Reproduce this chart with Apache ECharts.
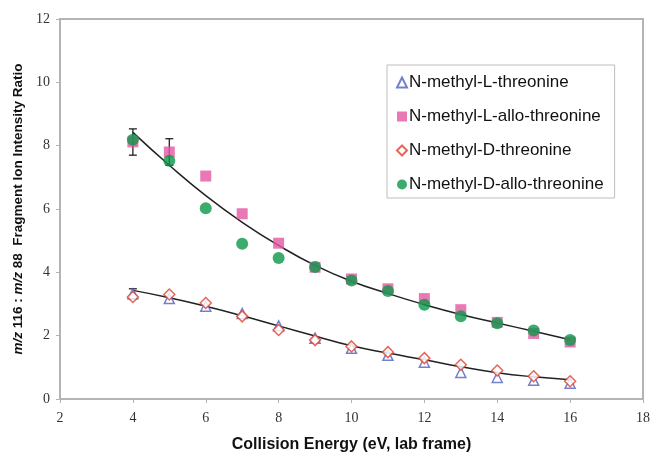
<!DOCTYPE html>
<html>
<head>
<meta charset="utf-8">
<script src="https://cdn.jsdelivr.net/npm/echarts@6/dist/echarts.min.js"></script>
<style>html,body{margin:0;padding:0;background:#fff;}#c{width:653px;height:458px;}</style>
</head>
<body>
<div id="c"></div>
<script>
var energies = [4, 5, 6, 7, 8, 9, 10, 11, 12, 13, 14, 15, 16];
var seriesNames = ['N-methyl-L-threonine', 'N-methyl-L-allo-threonine', 'N-methyl-D-threonine', 'N-methyl-D-allo-threonine'];
var lThreonine    = [3.32, 3.17, 2.93, 2.70, 2.31, 1.92, 1.60, 1.38, 1.16, 0.84, 0.68, 0.59, 0.50];
var lAlloThreonine = [8.12, 7.80, 7.04, 5.85, 4.92, 4.16, 3.79, 3.48, 3.17, 2.82, 2.42, 2.07, 1.80];
var dThreonine    = [3.22, 3.30, 3.03, 2.61, 2.18, 1.86, 1.66, 1.48, 1.29, 1.08, 0.90, 0.72, 0.56];
var dAlloThreonine = [8.19, 7.52, 6.02, 4.90, 4.45, 4.17, 3.74, 3.41, 2.98, 2.61, 2.39, 2.16, 1.86];
var upperTrend = [8.42, 7.38, 6.42, 5.58, 4.85, 4.22, 3.72, 3.33, 2.98, 2.67, 2.40, 2.14, 1.87];
var lowerTrend = [3.43, 3.20, 2.93, 2.63, 2.31, 1.99, 1.68, 1.45, 1.24, 1.02, 0.83, 0.70, 0.61];
// error bars: [x, low, high]
var errorBars = [[4, 7.70, 8.53], [5, 7.38, 8.22], [4, 3.16, 3.48]];
var xTicks = [2, 4, 6, 8, 10, 12, 14, 16, 18];
var yTicks = [0, 2, 4, 6, 8, 10, 12];

function pairs(vals) { return energies.map(function (e, i) { return [e, vals[i]]; }); }

var chart = echarts.init(document.getElementById('c'));
var serif = '"Liberation Serif", "Times New Roman", serif';
var sans = '"Liberation Sans", Arial, sans-serif';

chart.setOption({
  animation: false,
  backgroundColor: '#fff',
  grid: { left: 60, right: 7, top: 19, bottom: 55, show: true, borderColor: '#b4b4b4', borderWidth: 2, backgroundColor: 'transparent' },
  legend: {
    data: seriesNames,
    orient: 'vertical',
    left: 387, top: 65,
    padding: [9, 11, 5, 9],
    itemGap: 17,
    itemWidth: 10, itemHeight: 10,
    borderColor: '#bdbdbd', borderWidth: 1,
    backgroundColor: '#fff',
    textStyle: { fontFamily: sans, fontSize: 17, color: '#111', padding: [0, 0, 0, -3] }
  },
  xAxis: {
    type: 'value', min: 2, max: 18, interval: 2,
    name: 'Collision Energy (eV, lab frame)', nameLocation: 'middle', nameGap: 38,
    nameTextStyle: { fontFamily: sans, fontWeight: 'bold', fontSize: 16, color: '#111' },
    axisLine: { show: true, lineStyle: { color: '#b4b4b4', width: 2 } },
    axisTick: { show: true, length: 4, lineStyle: { color: '#b4b4b4' } },
    axisLabel: { fontFamily: serif, fontSize: 14, color: '#333', margin: 12,
      formatter: function (v) { return xTicks.indexOf(v) >= 0 ? String(v) : ''; } },
    splitLine: { show: false }
  },
  yAxis: {
    type: 'value', min: 0, max: 12, interval: 2,
    name: '{i|m/z} 116 : {i|m/z} 88  Fragment Ion Intensity Ratio', nameLocation: 'middle', nameGap: 32,
    nameTextStyle: { fontFamily: sans, fontWeight: 'bold', fontSize: 13.5, color: '#111',
      rich: { i: { fontFamily: sans, fontStyle: 'italic', fontWeight: 'bold', fontSize: 13.5, color: '#111' } } },
    axisLine: { show: true, lineStyle: { color: '#b4b4b4', width: 2 } },
    axisTick: { show: true, length: 4, lineStyle: { color: '#b4b4b4' } },
    axisLabel: { fontFamily: serif, fontSize: 14, color: '#333', margin: 10,
      formatter: function (v) { return yTicks.indexOf(v) >= 0 ? String(v) : ''; } },
    splitLine: { show: false }
  },
  series: [
    { type: 'line', data: pairs(upperTrend), smooth: true, symbol: 'none', lineStyle: { color: '#222', width: 1.5 }, z: 3, silent: true },
    { type: 'line', data: pairs(lowerTrend), smooth: true, symbol: 'none', lineStyle: { color: '#222', width: 1.5 }, z: 3, silent: true },
    {
      type: 'custom', z: 4, silent: true,
      data: errorBars,
      renderItem: function (params, api) {
        var x = api.value(0);
        var lo = api.coord([x, api.value(1)]);
        var hi = api.coord([x, api.value(2)]);
        var w = 4;
        var st = { stroke: '#222', lineWidth: 1.3 };
        return { type: 'group', children: [
          { type: 'line', shape: { x1: lo[0], y1: lo[1], x2: hi[0], y2: hi[1] }, style: st },
          { type: 'line', shape: { x1: lo[0] - w, y1: lo[1], x2: lo[0] + w, y2: lo[1] }, style: st },
          { type: 'line', shape: { x1: hi[0] - w, y1: hi[1], x2: hi[0] + w, y2: hi[1] }, style: st }
        ] };
      }
    },
    { name: seriesNames[0], type: 'scatter', data: pairs(lThreonine), symbol: 'triangle', symbolSize: 10, z: 5,
      itemStyle: { color: '#fff', borderColor: '#5060c0', borderWidth: 1.5 } },
    { name: seriesNames[1], type: 'scatter', data: pairs(lAlloThreonine), symbol: 'rect', symbolSize: 11, z: 5,
      itemStyle: { color: '#e457a3' } },
    { name: seriesNames[2], type: 'scatter', data: pairs(dThreonine), symbol: 'diamond', symbolSize: 11, z: 6,
      itemStyle: { color: '#fff', borderColor: '#e0402e', borderWidth: 1.5 } },
    { name: seriesNames[3], type: 'scatter', data: pairs(dAlloThreonine), symbol: 'circle', symbolSize: 12, z: 6,
      itemStyle: { color: '#0b974a' } }
  ]
});
</script>
</body>
</html>
